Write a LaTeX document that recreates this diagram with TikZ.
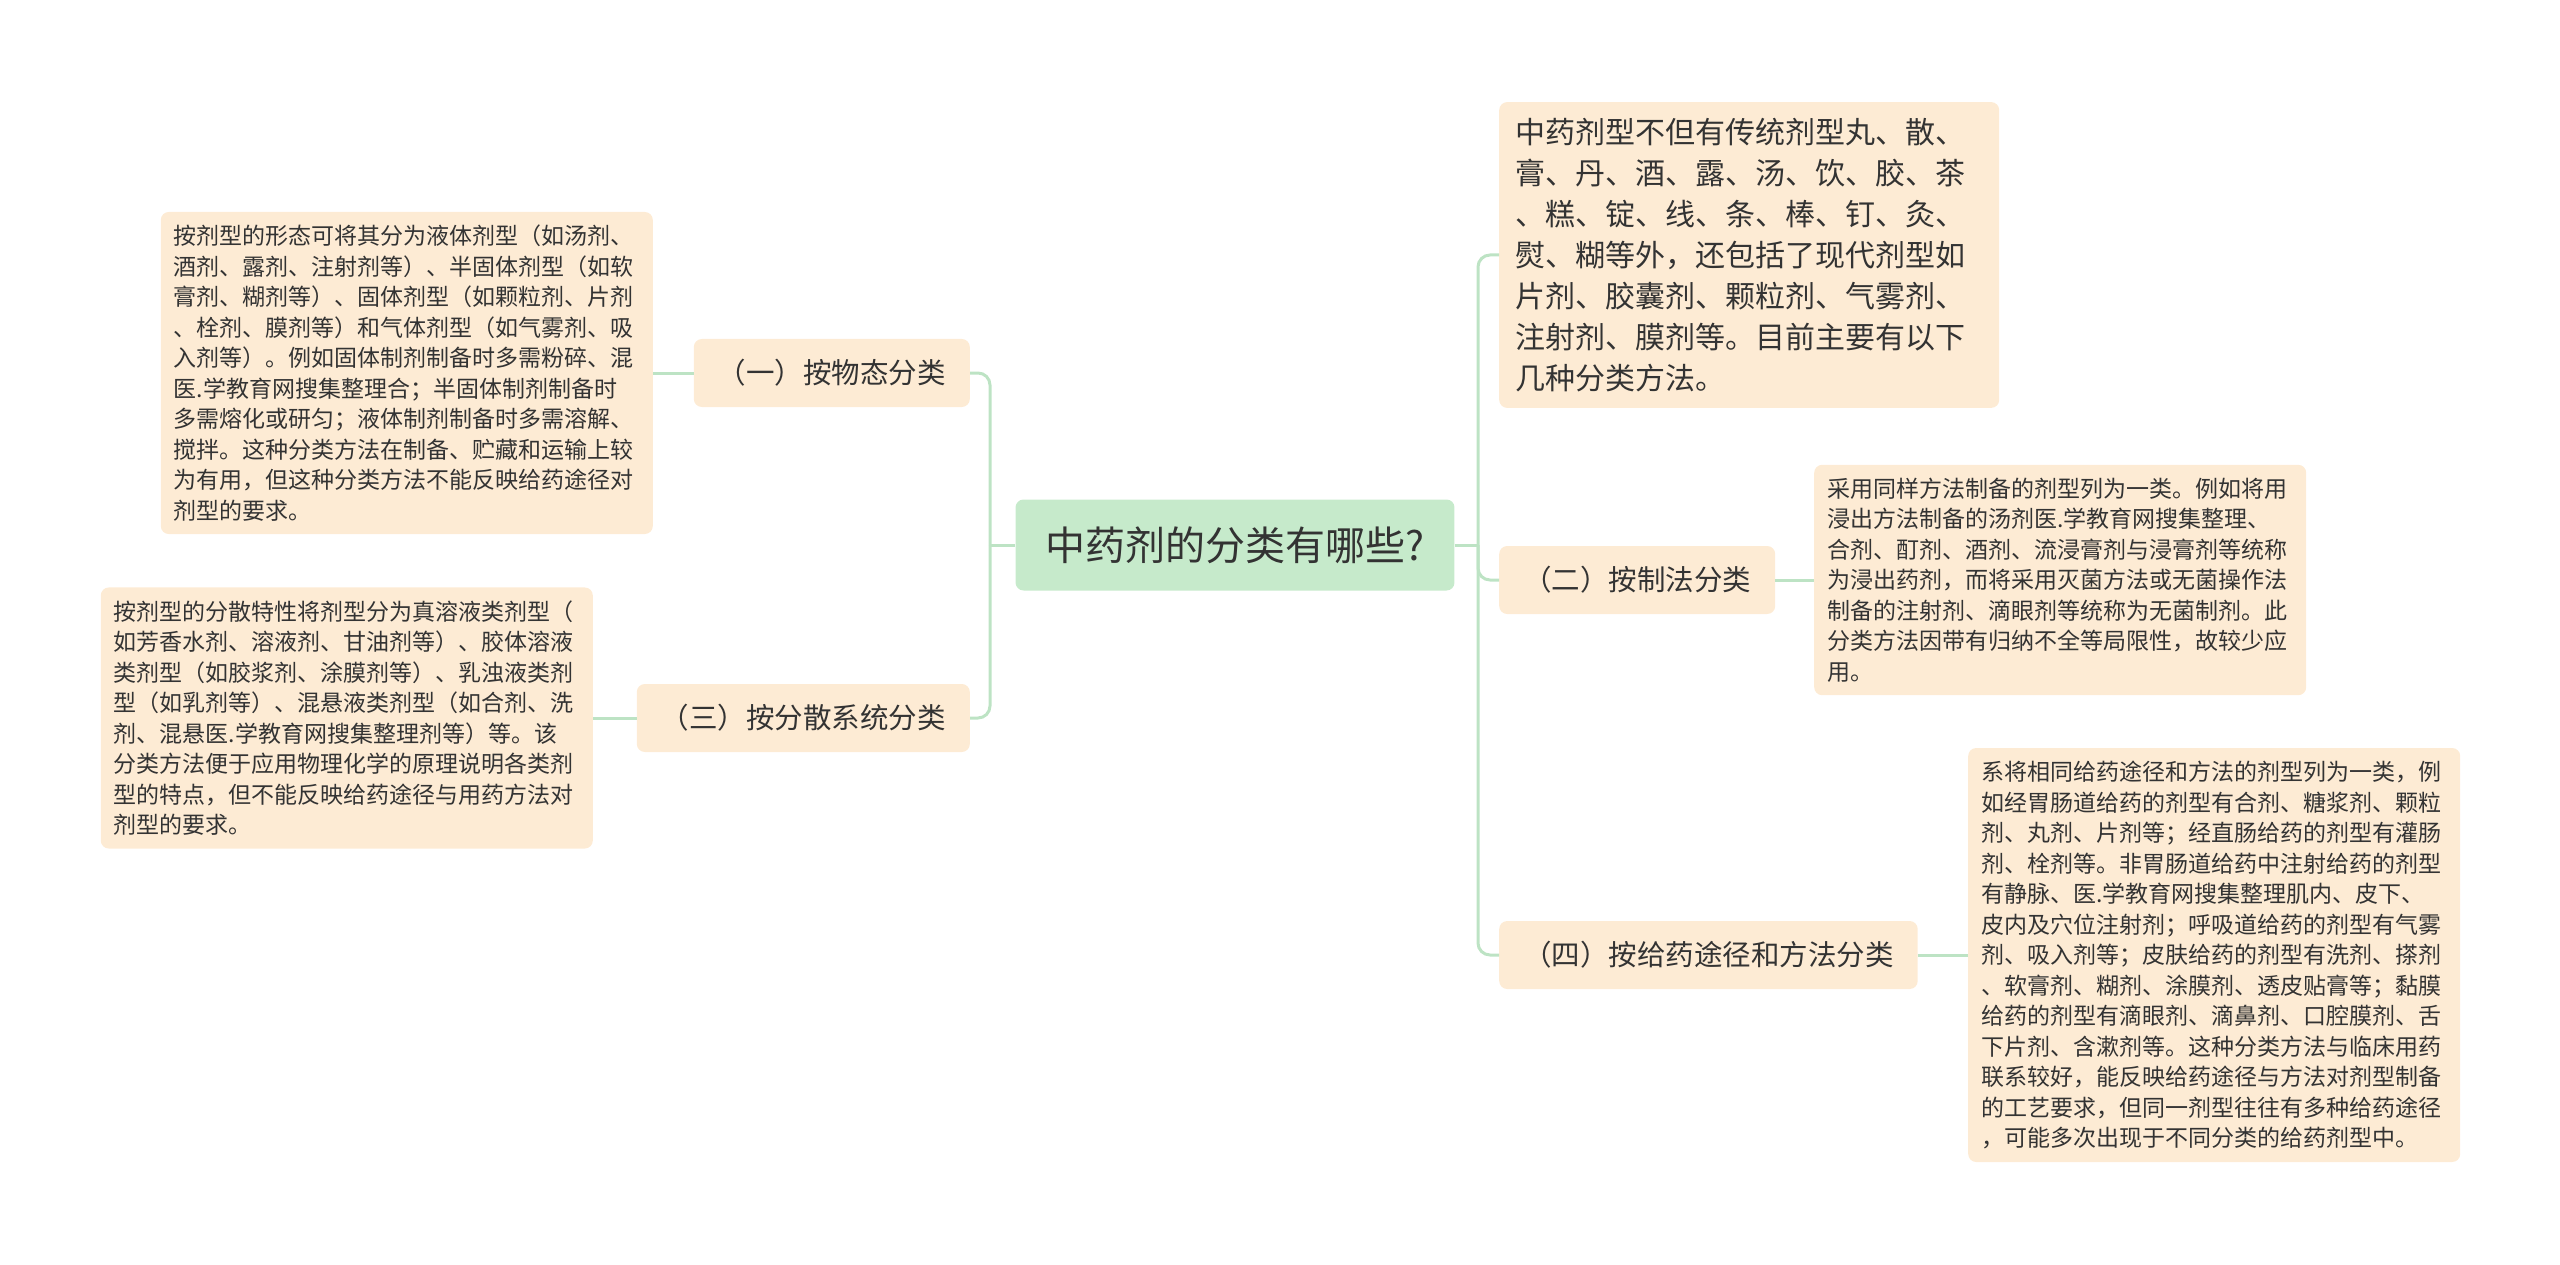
\documentclass[tikz,border=0pt]{standalone}
\usepackage{fontspec}
\setmainfont{Noto Sans CJK SC}
\usepackage{tikz}
\usetikzlibrary{positioning,calc}
\definecolor{rootfill}{HTML}{C6EACB}
\definecolor{leaffill}{HTML}{FDEBD4}
\definecolor{linkgreen}{HTML}{BDE3C4}
\definecolor{inktext}{HTML}{333333}
\begin{document}
\begin{tikzpicture}[x=1pt,y=-1pt]
\tikzset{every node/.style={text=inktext}}
\tikzset{root/.style={fill=rootfill,rounded corners=8pt,inner xsep=30pt,minimum height=91pt,font=\fontsize{40}{48}\selectfont}}
\tikzset{branch/.style={fill=leaffill,rounded corners=8pt,inner xsep=24pt,minimum height=68pt,font=\fontsize{28.5}{34}\selectfont}}
\tikzset{detail/.style={fill=leaffill,rounded corners=8pt,inner sep=13pt,text width=466pt,align=left,font=\fontsize{23}{30.5}\selectfont}}
\tikzset{intro/.style={fill=leaffill,rounded corners=8pt,inner sep=16pt,text width=468pt,align=left,font=\fontsize{30}{41}\selectfont}}
\tikzset{link/.style={draw=linkgreen,line width=3pt,rounded corners=12pt}}
\useasboundingbox (0,0) rectangle (2560,1265);
\node[root] (q) at (1235,545) {中药剂的分类有哪些?};
\node[branch,anchor=east] (wutai) at (970,373) {（一）按物态分类};
\node[branch,anchor=east] (fensan) at (970,718) {（三）按分散系统分类};
\node[intro,anchor=west] (jianjie) at (1499,255) {中药剂型不但有传统剂型丸、散、\\膏、丹、酒、露、汤、饮、胶、茶\\、糕、锭、线、条、棒、钉、灸、\\熨、糊等外，还包括了现代剂型如\\片剂、胶囊剂、颗粒剂、气雾剂、\\注射剂、膜剂等。目前主要有以下\\几种分类方法。};
\node[branch,anchor=west] (zhifa) at (1499,580) {（二）按制法分类};
\node[branch,anchor=west] (tujing) at (1499,955) {（四）按给药途径和方法分类};
\node[detail,anchor=east] (wutaitxt) at (653,373) {按剂型的形态可将其分为液体剂型（如汤剂、\\酒剂、露剂、注射剂等）、半固体剂型（如软\\膏剂、糊剂等）、固体剂型（如颗粒剂、片剂\\、栓剂、膜剂等）和气体剂型（如气雾剂、吸\\入剂等）。例如固体制剂制备时多需粉碎、混\\医.学教育网搜集整理合；半固体制剂制备时\\多需熔化或研匀；液体制剂制备时多需溶解、\\搅拌。这种分类方法在制备、贮藏和运输上较\\为有用，但这种分类方法不能反映给药途径对\\剂型的要求。};
\node[detail,anchor=east] (fensantxt) at (593,718) {按剂型的分散特性将剂型分为真溶液类剂型（\\如芳香水剂、溶液剂、甘油剂等）、胶体溶液\\类剂型（如胶浆剂、涂膜剂等）、乳浊液类剂\\型（如乳剂等）、混悬液类剂型（如合剂、洗\\剂、混悬医.学教育网搜集整理剂等）等。该\\分类方法便于应用物理化学的原理说明各类剂\\型的特点，但不能反映给药途径与用药方法对\\剂型的要求。};
\node[detail,anchor=west] (zhifatxt) at (1814,580) {采用同样方法制备的剂型列为一类。例如将用\\浸出方法制备的汤剂医.学教育网搜集整理、\\合剂、酊剂、酒剂、流浸膏剂与浸膏剂等统称\\为浸出药剂，而将采用灭菌方法或无菌操作法\\制备的注射剂、滴眼剂等统称为无菌制剂。此\\分类方法因带有归纳不全等局限性，故较少应\\用。};
\node[detail,anchor=west] (tujingtxt) at (1968,955) {系将相同给药途径和方法的剂型列为一类，例\\如经胃肠道给药的剂型有合剂、糖浆剂、颗粒\\剂、丸剂、片剂等；经直肠给药的剂型有灌肠\\剂、栓剂等。非胃肠道给药中注射给药的剂型\\有静脉、医.学教育网搜集整理肌内、皮下、\\皮内及穴位注射剂；呼吸道给药的剂型有气雾\\剂、吸入剂等；皮肤给药的剂型有洗剂、搽剂\\、软膏剂、糊剂、涂膜剂、透皮贴膏等；黏膜\\给药的剂型有滴眼剂、滴鼻剂、口腔膜剂、舌\\下片剂、含漱剂等。这种分类方法与临床用药\\联系较好，能反映给药途径与方法对剂型制备\\的工艺要求，但同一剂型往往有多种给药途径\\，可能多次出现于不同分类的给药剂型中。};
\coordinate (lhub) at (990,545);
\coordinate (rhub) at (1478,545);
\draw[link] (q.west) -- (lhub);
\draw[link] (lhub) |- (wutai.east);
\draw[link] (lhub) |- (fensan.east);
\draw[link] (q.east) -- (rhub);
\draw[link] (rhub) |- (jianjie.west);
\draw[link] (rhub) |- (zhifa.west);
\draw[link] (rhub) |- (tujing.west);
\draw[link] (wutai.west) -- (wutaitxt.east);
\draw[link] (fensan.west) -- (fensantxt.east);
\draw[link] (zhifa.east) -- (zhifatxt.west);
\draw[link] (tujing.east) -- (tujingtxt.west);
\end{tikzpicture}
\end{document}
